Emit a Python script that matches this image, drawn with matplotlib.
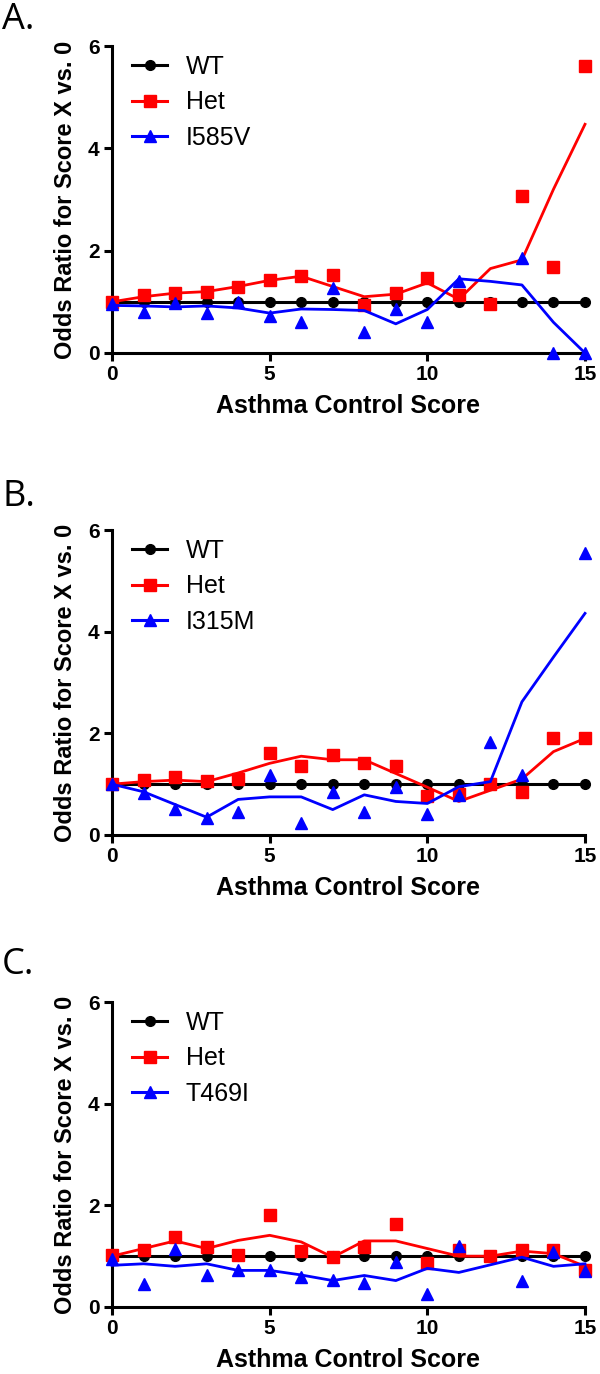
import numpy as np
import matplotlib
matplotlib.use("Agg")
import matplotlib.pyplot as plt
from matplotlib.lines import Line2D

plt.rcParams['font.family'] = ['Liberation Sans', 'DejaVu Sans']

scores = np.arange(16)

# Panel A (I585V)
a_wt = [1.0] * 16
a_het_pts = [1.0, 1.14, 1.17, 1.2, 1.29, 1.43, 1.5, 1.53, 0.94, 1.17, 1.47, 1.14, 0.96, 3.06, 1.69, 5.6]
a_het_fit = [1.0, 1.1, 1.17, 1.2, 1.3, 1.42, 1.5, 1.3, 1.1, 1.15, 1.37, 1.05, 1.65, 1.82, 3.2, 4.47]
a_var_pts = [0.95, 0.81, 0.98, 0.78, 1.0, 0.73, 0.61, 1.27, 0.42, 0.86, 0.61, 1.4, np.nan, 1.86, 0.0, 0.0]
a_var_fit = [0.93, 0.92, 0.9, 0.92, 0.88, 0.78, 0.86, 0.85, 0.83, 0.57, 0.85, 1.45, 1.4, 1.33, 0.6, 0.0]

# Panel B (I315M)
b_wt = [1.0] * 16
b_het_pts = [1.0, 1.08, 1.15, 1.06, 1.1, 1.62, 1.35, 1.58, 1.41, 1.35, 0.77, 0.81, 1.0, 0.85, 1.9, 1.9]
b_het_fit = [1.0, 1.05, 1.08, 1.05, 1.22, 1.41, 1.55, 1.48, 1.48, 1.21, 0.94, 0.66, 0.88, 1.1, 1.64, 1.9]
b_var_pts = [1.0, 0.83, 0.51, 0.33, 0.46, 1.18, 0.24, 0.85, 0.46, 0.94, 0.42, 0.79, 1.82, 1.19, np.nan, 5.54]
b_var_fit = [1.0, 0.85, 0.6, 0.35, 0.7, 0.75, 0.75, 0.5, 0.79, 0.66, 0.62, 0.95, 1.05, 2.62, 3.5, 4.36]

# Panel C (T469I)
c_wt = [1.0] * 16
c_het_pts = [1.02, 1.13, 1.37, 1.18, 1.02, 1.81, 1.1, 0.98, 1.18, 1.64, 0.87, 1.13, 1.0, 1.13, 1.12, 0.72]
c_het_fit = [1.0, 1.15, 1.3, 1.15, 1.31, 1.41, 1.28, 0.98, 1.3, 1.3, 1.15, 1.0, 1.0, 1.1, 1.05, 0.8]
c_var_pts = [0.95, 0.46, 1.15, 0.62, 0.72, 0.72, 0.6, 0.53, 0.47, 0.88, 0.25, 1.2, np.nan, 0.52, 1.08, 0.7]
c_var_fit = [0.82, 0.85, 0.8, 0.85, 0.72, 0.72, 0.63, 0.52, 0.62, 0.52, 0.76, 0.68, 0.83, 0.98, 0.8, 0.85]

panels = [
    ("A.", "I585V", a_wt, a_het_pts, a_het_fit, a_var_pts, a_var_fit),
    ("B.", "I315M", b_wt, b_het_pts, b_het_fit, b_var_pts, b_var_fit),
    ("C.", "T469I", c_wt, c_het_pts, c_het_fit, c_var_pts, c_var_fit),
]

x_ticks = [0, 5, 10, 15]
y_ticks = [0, 2, 4, 6]

W, H = 600, 1374
fig = plt.figure(figsize=(W / 100, H / 100), dpi=100)

# axes boxes in pixels: (left, top, right, bottom)
boxes = [(112, 46, 585, 353), (112, 530, 585, 835), (112, 1002, 585, 1307)]
label_y = [20, 497, 965]

RED = '#ff0000'
BLUE = '#0000ff'

for (lab, var, wt, hp, hf, vp, vf), (l, t, r, b), ly in zip(panels, boxes, label_y):
    ax = fig.add_axes([l / W, 1 - b / H, (r - l) / W, (b - t) / H])
    ax.plot(scores, wt, color='black', lw=2.2, marker='o', ms=7, clip_on=False, zorder=3)
    ax.plot(scores, hf, color=RED, lw=2.0, clip_on=False, zorder=4)
    ax.plot(scores, hp, ls='none', marker='s', ms=9, color=RED, clip_on=False, zorder=4)
    ax.plot(scores, vf, color=BLUE, lw=2.0, clip_on=False, zorder=5)
    ax.plot(scores, vp, ls='none', marker='^', ms=9, color=BLUE, clip_on=False, zorder=5)

    ax.set_xlim(0, 15)
    ax.set_ylim(0, 6)
    ax.set_xticks(x_ticks)
    ax.set_yticks(y_ticks)
    for s in ['top', 'right']:
        ax.spines[s].set_visible(False)
    for s in ['left', 'bottom']:
        ax.spines[s].set_linewidth(2.2)
    ax.tick_params(width=2.2, length=6, labelsize=15, pad=3)
    for tl in ax.get_xticklabels() + ax.get_yticklabels():
        tl.set_fontweight('bold')
    ax.set_xlabel("Asthma Control Score", fontsize=18, fontweight='bold', labelpad=7)
    ax.set_ylabel("Odds Ratio for Score X vs. 0", fontsize=17, fontweight='bold', labelpad=8)

    handles = [
        Line2D([], [], color='black', lw=2.2, marker='o', ms=7),
        Line2D([], [], color=RED, lw=2.2, marker='s', ms=9),
        Line2D([], [], color=BLUE, lw=2.2, marker='^', ms=9),
    ]
    ax.legend(handles, ["WT", "Het", var], loc='upper left', bbox_to_anchor=(20 / 473, 0.97),
              frameon=False, fontsize=18, handlelength=1.4, handletextpad=0.75,
              labelspacing=0.45, borderaxespad=0.0, borderpad=0.0)

    fig.text(2 / W, 1 - ly / H, lab, fontsize=26, ha='left', va='center',
             family=['Open Sans', 'DejaVu Sans'])

fig.savefig("out.png", dpi=100)
